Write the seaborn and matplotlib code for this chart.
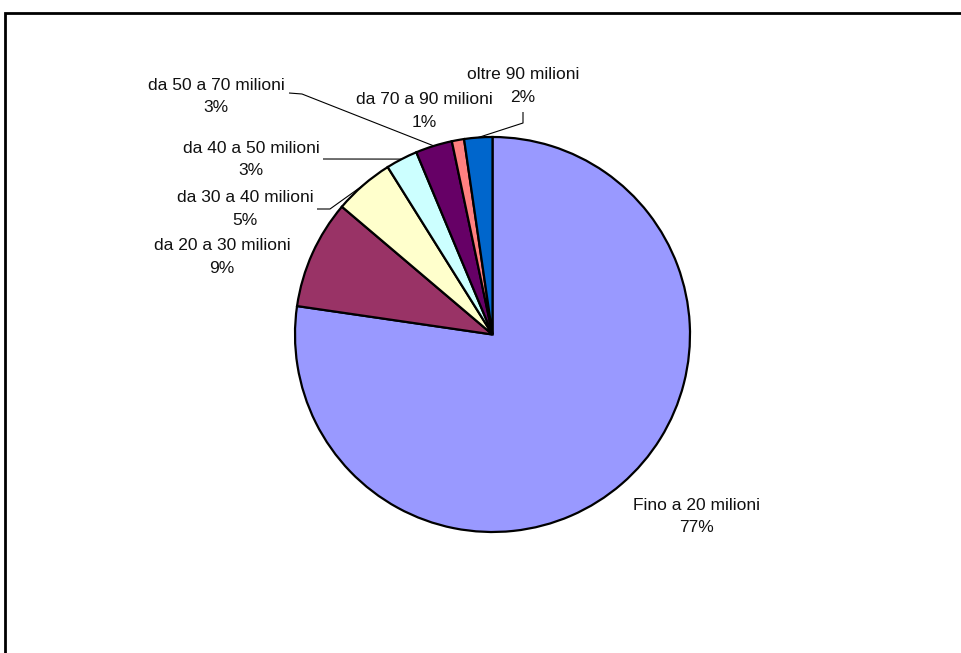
import matplotlib
matplotlib.use("Agg")
import matplotlib.pyplot as plt
import seaborn as sns
import numpy as np

# ---- data ----
categories = ["Fino a 20 milioni", "da 20 a 30 milioni", "da 30 a 40 milioni",
              "da 40 a 50 milioni", "da 50 a 70 milioni", "da 70 a 90 milioni",
              "oltre 90 milioni"]
values = [77.3, 8.9, 4.9, 2.6, 3.0, 1.0, 2.3]
colors = ["#9999FF", "#993366", "#FFFFCC", "#CCFFFF", "#660066", "#FF8080", "#0066CC"]

sns.set_theme(style="white")
plt.rcParams['font.family'] = ['Liberation Sans', 'DejaVu Sans']

W, H = 962, 653
fig = plt.figure(figsize=(W / 100, H / 100), dpi=100)
ax = fig.add_axes([0, 0, 1, 1])
ax.set_xlim(0, W)
ax.set_ylim(0, H)
ax.set_aspect('equal')
ax.axis('off')

def py(y):
    return H - y

cx, cy, R = 492.5, py(334.5), 197.5
wedges, _ = ax.pie(values, colors=colors, startangle=90, counterclock=False,
                   center=(cx, cy), radius=R, frame=True,
                   wedgeprops=dict(edgecolor='black', linewidth=1.6))
ax.set_xlim(0, W)
ax.set_ylim(0, H)
ax.axis('off')

total = sum(values)
pct = [f"{round(v / total * 100)}%" for v in values]

# label positions (pixel coords of label centers)
label_pos = [(697, 516.5), (222, 257), (245, 209), (251, 159.5),
             (216, 96.5), (424, 111), (523, 86)]
fs = 12.5
for i, (x, y) in enumerate(label_pos):
    ax.text(x, py(y), f"{categories[i]}\n{pct[i]}", ha='center', va='center',
            multialignment='center', fontsize=fs, color='#111111', linespacing=1.65)

def mid_point(i):
    w = wedges[i]
    a = np.deg2rad((w.theta1 + w.theta2) / 2)
    return cx + R * np.cos(a), cy + R * np.sin(a)

# leader lines: label-side points then wedge point
leaders = {
    4: [(289, 93), (302, 94)],
    3: [(323, 159)],
    2: [(317, 209), (330, 209)],
    6: [(523, 112), (523, 123)],
}
for i, pts in leaders.items():
    xs = [p[0] for p in pts]
    ys = [py(p[1]) for p in pts]
    mx, my = mid_point(i)
    xs.append(mx)
    ys.append(my)
    ax.plot(xs, ys, color='black', linewidth=0.8, solid_capstyle='butt')

# outer frame (left and top edges visible)
ax.plot([5, 5, W + 5], [py(H + 5), py(13), py(13)], color='black', linewidth=2.0,
        solid_joinstyle='miter')

fig.savefig("out.png", dpi=100)
